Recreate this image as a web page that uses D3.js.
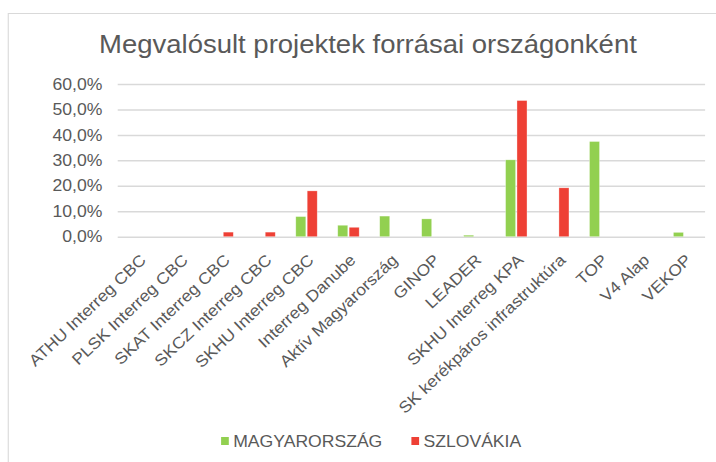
<!DOCTYPE html>
<html>
<head>
<meta charset="utf-8">
<script src="https://cdn.jsdelivr.net/npm/d3@7"></script>
<style>
  body { margin: 0; background: #fff; }
  svg { display: block; font-family: "Liberation Sans", Arial, sans-serif; }
</style>
</head>
<body>
<div id="chart"></div>
<script>
// --- Data ---
const categories = [
    "ATHU Interreg CBC", "PLSK Interreg CBC", "SKAT Interreg CBC", "SKCZ Interreg CBC",
    "SKHU Interreg CBC", "Interreg Danube", "Aktív Magyarország", "GINOP", "LEADER",
    "SKHU Interreg KPA", "SK kerékpáros infrastruktúra", "TOP", "V4 Alap", "VEKOP"
];
const seriesNames = ["MAGYARORSZÁG", "SZLOVÁKIA"];
const huValues = [0, 0, 0, 0, 7.9, 4.5, 8.1, 7.0, 0.6, 30.2, 0, 37.4, 0, 1.7];
const skValues = [0, 0, 1.8, 1.8, 18.0, 3.7, 0, 0, 0, 53.5, 19.2, 0, 0, 0];
const yTicks = [0, 10, 20, 30, 40, 50, 60];

const colors = ["#92d050", "#ee4035"];

// the reference picture is stretched horizontally, draw in a narrower frame and scale x
const stretch = 1.1;
const fullW = 716, fullH = 462;
const W = fullW / stretch;

const plot = { left: 107, right: 641, top: 84, bottom: 236.7 };

const svgRoot = d3.select("#chart").append("svg")
    .attr("width", fullW)
    .attr("height", fullH);

const svg = svgRoot.append("g")
    .attr("transform", `scale(${stretch},1)`);

// outer frame
svg.append("rect")
    .attr("x", 7.5).attr("y", 13.5)
    .attr("width", W + 20).attr("height", fullH + 20)
    .attr("fill", "none")
    .attr("stroke", "#d9d9d9")
    .attr("stroke-width", 1);

// title
svg.append("text")
    .attr("x", 334.5)
    .attr("y", 53)
    .attr("text-anchor", "middle")
    .attr("fill", "#595959")
    .style("font-size", "25px")
    .text("Megvalósult projektek forrásai országonként");

const x0 = d3.scaleBand()
    .domain(categories)
    .range([plot.left, plot.right])
    .padding(0);

const pairW = 19.5;
const x1 = d3.scaleBand()
    .domain(seriesNames)
    .range([0, pairW])
    .paddingInner(0.12);

const y = d3.scaleLinear()
    .domain([0, 60])
    .range([plot.bottom, plot.top]);

// gridlines + y labels
const yAxis = svg.append("g")
    .attr("transform", `translate(${plot.left},0)`)
    .call(d3.axisLeft(y)
        .tickValues(yTicks)
        .tickSize(-(plot.right - plot.left))
        .tickPadding(14)
        .tickFormat(d => d3.format(".1f")(d).replace(".", ",") + "%"));

yAxis.select(".domain").remove();
yAxis.selectAll(".tick line")
    .attr("stroke", "#d9d9d9")
    .attr("stroke-width", 1.5);
yAxis.selectAll(".tick text")
    .attr("fill", "#595959")
    .style("font-size", "16px")
    .style("font-family", "'Liberation Sans', Arial, sans-serif");

// bars
const rows = categories.map((c, i) => ({ cat: c, values: [huValues[i], skValues[i]] }));

const groups = svg.append("g").selectAll("g")
    .data(rows)
    .join("g")
    .attr("transform", d => `translate(${x0(d.cat) + (x0.bandwidth() - pairW) / 2},0)`);

groups.selectAll("rect")
    .data(d => d.values.map((v, k) => ({ name: seriesNames[k], value: v, k: k })))
    .join("rect")
    .filter(d => d.value > 0)
    .attr("x", d => x1(d.name))
    .attr("y", d => y(d.value))
    .attr("width", x1.bandwidth())
    .attr("height", d => y(0) - y(d.value))
    .attr("fill", d => colors[d.k])
    .attr("stroke", "#fff")
    .attr("stroke-opacity", 0.5)
    .attr("stroke-width", 0.6);

// category labels (placed in page space so the angle stays close to 45deg)
svgRoot.append("g").selectAll("text")
    .data(categories)
    .join("text")
    .attr("transform", d => `translate(${stretch * (x0(d) + x0.bandwidth() / 2 + 7.5)},${plot.bottom + 24.5}) rotate(-43.5) scale(${stretch},1)`)
    .attr("text-anchor", "end")
    .attr("fill", "#595959")
    .style("font-size", "16px")
    .text(d => d);

// legend
const legendItems = [
    { name: seriesNames[0], x: 201, color: colors[0] },
    { name: seriesNames[1], x: 374, color: colors[1] }
];
const legend = svg.append("g").selectAll("g")
    .data(legendItems)
    .join("g")
    .attr("transform", d => `translate(${d.x},437)`);

legend.append("rect")
    .attr("width", 7)
    .attr("height", 8)
    .attr("fill", d => d.color);

legend.append("text")
    .attr("x", 11)
    .attr("y", 9.5)
    .attr("fill", "#595959")
    .style("font-size", "16px")
    .text(d => d.name);
</script>
</body>
</html>
